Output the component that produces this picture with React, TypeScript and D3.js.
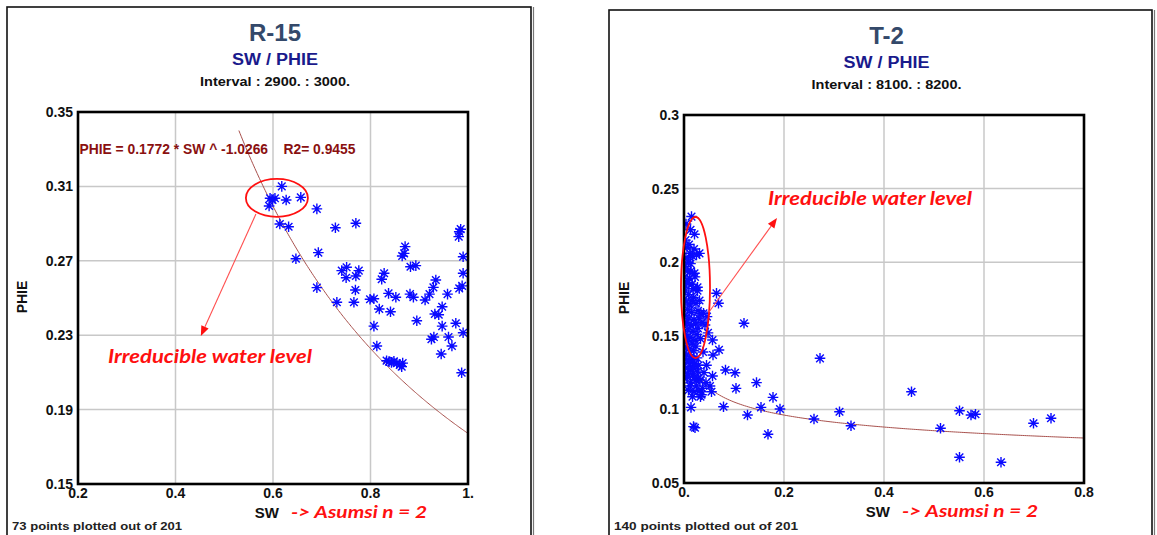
import React from "react";
import * as d3 from "d3";

const W = 1157;
const H = 535;

// R-15 crossplot samples: [SW, PHIE]
const r15Points: [number, number][] = [
  [0.618, 0.31], [0.594, 0.3036], [0.604, 0.3036], [0.599, 0.3027], [0.592, 0.2995], [0.627, 0.3027], [0.657, 0.3041],
  [0.69, 0.2979], [0.614, 0.2898], [0.632, 0.2883], [0.728, 0.2878], [0.77, 0.2902],
  [0.647, 0.2711], [0.693, 0.2744], [0.69, 0.2556], [0.731, 0.2477],
  [0.741, 0.2647], [0.751, 0.2665], [0.75, 0.2609], [0.77, 0.2618], [0.776, 0.2647], [0.769, 0.2543], [0.766, 0.2477],
  [0.799, 0.2493], [0.807, 0.2496], [0.818, 0.2441], [0.807, 0.2349], [0.813, 0.2242],
  [0.841, 0.2426], [0.837, 0.2525], [0.852, 0.2504], [0.823, 0.2601], [0.828, 0.2633],
  [0.865, 0.2726], [0.871, 0.2776], [0.869, 0.274], [0.882, 0.2668], [0.893, 0.2674],
  [0.881, 0.2521], [0.888, 0.2504], [0.895, 0.2378],
  [0.912, 0.2489], [0.921, 0.2521], [0.929, 0.2557], [0.934, 0.2597], [0.958, 0.2521], [0.947, 0.2453], [0.932, 0.2414],
  [0.947, 0.2349], [0.925, 0.2278], [0.93, 0.229], [0.945, 0.2199], [0.967, 0.2242], [0.975, 0.2364],
  [0.982, 0.2552], [0.988, 0.2565], [0.99, 0.2633], [0.99, 0.2722], [0.982, 0.2856], [0.981, 0.283], [0.985, 0.287],
  [0.99, 0.2313], [0.987, 0.2098],
  [0.833, 0.2163], [0.838, 0.2158], [0.843, 0.2154], [0.848, 0.216], [0.854, 0.2149], [0.86, 0.214], [0.864, 0.2131], [0.866, 0.215],
  [0.96, 0.229], [0.94, 0.241],
];

// T-2 crossplot samples: [SW, PHIE]
const t2Points: [number, number][] = [
  [0.015, 0.231], [0.021, 0.219], [0.031, 0.206], [0.012, 0.206], [0.021, 0.1925], [0.027, 0.1806],
  [0.065, 0.1789], [0.069, 0.1721], [0.12, 0.1585], [0.039, 0.1653], [0.042, 0.1573], [0.057, 0.1471],
  [0.07, 0.1404], [0.058, 0.137], [0.272, 0.1347], [0.083, 0.1268], [0.102, 0.1249], [0.145, 0.1182],
  [0.104, 0.1143], [0.178, 0.1082], [0.455, 0.112], [0.154, 0.1014], [0.192, 0.1003], [0.079, 0.1018],
  [0.127, 0.0962], [0.26, 0.0935], [0.311, 0.0984], [0.334, 0.0889], [0.168, 0.0831], [0.513, 0.0872],
  [0.551, 0.0991], [0.574, 0.0962], [0.583, 0.0967], [0.551, 0.0675], [0.634, 0.0641], [0.699, 0.0906],
  [0.734, 0.094], [0.014, 0.1014], [0.019, 0.0883], [0.022, 0.0875], [0.017, 0.1086], [0.033, 0.1086],
  [0.037, 0.1143], [0.044, 0.1182], [0.057, 0.1227], [0.052, 0.1159], [0.055, 0.112], [0.024, 0.12],
  [0.007, 0.1245], [0.016, 0.129], [0.018, 0.1336], [0.029, 0.121],
  [0.003, 0.215], [0.006, 0.21], [0.004, 0.203], [0.009, 0.2], [0.002, 0.197], [0.007, 0.194], [0.013, 0.199],
  [0.017, 0.204], [0.025, 0.205], [0.011, 0.189], [0.005, 0.186], [0.016, 0.185], [0.003, 0.181], [0.009, 0.178],
  [0.019, 0.176], [0.004, 0.173], [0.012, 0.171], [0.024, 0.172], [0.007, 0.168], [0.015, 0.166], [0.028, 0.167],
  [0.034, 0.165], [0.002, 0.164], [0.01, 0.162], [0.02, 0.161], [0.03, 0.162], [0.005, 0.159], [0.014, 0.157],
  [0.023, 0.158], [0.036, 0.159], [0.008, 0.154], [0.018, 0.153], [0.003, 0.151], [0.012, 0.149], [0.026, 0.151],
  [0.006, 0.146], [0.016, 0.145], [0.022, 0.147], [0.002, 0.142], [0.01, 0.141], [0.019, 0.14], [0.005, 0.137],
  [0.014, 0.136], [0.008, 0.132], [0.021, 0.131], [0.003, 0.128], [0.012, 0.127], [0.017, 0.124], [0.027, 0.126],
  [0.006, 0.122], [0.032, 0.12], [0.013, 0.118], [0.025, 0.116], [0.009, 0.113], [0.02, 0.112], [0.035, 0.11],
  [0.03, 0.1125],
  [0.01, 0.212], [0.02, 0.209], [0.014, 0.194], [0.022, 0.19], [0.001, 0.19], [0.018, 0.182], [0.027, 0.183],
  [0.001, 0.175], [0.031, 0.174], [0.016, 0.174], [0.008, 0.186], [0.001, 0.158], [0.028, 0.155], [0.001, 0.148],
  [0.033, 0.148], [0.024, 0.143], [0.001, 0.134], [0.026, 0.135], [0.011, 0.133], [0.019, 0.128], [0.001, 0.121],
  [0.021, 0.122], [0.04, 0.125], [0.012, 0.116], [0.045, 0.13], [0.048, 0.152], [0.046, 0.163], [0.038, 0.139],
  [0.029, 0.13], [0.004, 0.226], [0.013, 0.222],
];

const r15XTicks = [0.2, 0.4, 0.6, 0.8, 1.0];
const r15XLabels = ["0.2", "0.4", "0.6", "0.8", "1."];
const r15YTicks = [0.15, 0.19, 0.23, 0.27, 0.31, 0.35];
const r15YLabels = ["0.15", "0.19", "0.23", "0.27", "0.31", "0.35"];

const t2XTicks = [0, 0.2, 0.4, 0.6, 0.8];
const t2XLabels = ["0.", "0.2", "0.4", "0.6", "0.8"];
const t2YTicks = [0.05, 0.1, 0.15, 0.2, 0.25, 0.3];
const t2YLabels = ["0.05", "0.1", "0.15", "0.2", "0.25", "0.3"];

// Power-law fits PHIE = a * SW ^ b
const r15Fit = { a: 0.1772, b: -1.0266, r2: 0.9455, from: 0.53, to: 1.0 };
const t2Fit = { a: 0.0783, b: -0.1276, from: 0.033, to: 0.8 };

const SANS = "'Liberation Sans', Arial, sans-serif";
const CALI = "Lato, 'Open Sans', sans-serif";
const RED = "#ff1010";

type Note = {
  ellipse: { sw: number; phie: number; rsw: number; rphie: number };
  arrow: { from: [number, number]; to: [number, number] };
  label: [number, number];
};

type PanelProps = {
  id: string;
  frame: { x: number; y: number; w: number; h: number };
  plot: { left: number; right: number; top: number; bottom: number };
  title: string;
  interval: string;
  points: [number, number][];
  xDomain: [number, number];
  yDomain: [number, number];
  xTicks: number[];
  xLabels: string[];
  yTicks: number[];
  yLabels: string[];
  fit: { a: number; b: number; from: number; to: number };
  equation?: { text: string; at: [number, number] };
  note: Note;
  footer: string;
  footerWidth: number;
};

function asterisk(r: number) {
  const d = r * 0.72;
  return `M${-r},0H${r}M0,${-r}V${r}M${-d},${-d}L${d},${d}M${-d},${d}L${d},${-d}`;
}

function Panel(p: PanelProps) {
  const x = d3.scaleLinear().domain(p.xDomain).range([p.plot.left, p.plot.right]);
  const y = d3.scaleLinear().domain(p.yDomain).range([p.plot.bottom, p.plot.top]);
  const cx = (p.frame.x + p.frame.x + p.frame.w) / 2 + 6;

  const fitPts = d3.range(0, 201).map((i) => {
    const sw = p.fit.from + ((p.fit.to - p.fit.from) * i) / 200;
    return [sw, p.fit.a * Math.pow(sw, p.fit.b)] as [number, number];
  });
  const line = d3
    .line<[number, number]>()
    .x((d) => x(d[0]))
    .y((d) => y(d[1]));

  const n = p.note;
  const ax1 = x(n.arrow.from[0]);
  const ay1 = y(n.arrow.from[1]);
  const ax2 = x(n.arrow.to[0]);
  const ay2 = y(n.arrow.to[1]);
  const ang = Math.atan2(ay2 - ay1, ax2 - ax1);
  const hl = 10;
  const hw = 4;
  const bx = ax2 - hl * Math.cos(ang);
  const by = ay2 - hl * Math.sin(ang);
  const head = `M${ax2},${ay2}L${bx + hw * Math.sin(ang)},${by - hw * Math.cos(ang)}L${bx - hw * Math.sin(ang)},${by + hw * Math.cos(ang)}Z`;

  const pw = p.plot.right - p.plot.left;
  const ph = p.plot.bottom - p.plot.top;
  const plotMidX = (p.plot.left + p.plot.right) / 2;
  const yMid = (p.plot.top + p.plot.bottom) / 2;

  return (
    <g>
      <defs>
        <clipPath id={`clip-${p.id}`}>
          <rect x={p.plot.left} y={p.plot.top} width={pw} height={ph} />
        </clipPath>
      </defs>
      {/* outer frame */}
      <rect x={p.frame.x} y={p.frame.y} width={p.frame.w} height={p.frame.h} fill="#fff" stroke="#111" strokeWidth={1.6} />
      <line x1={p.frame.x + p.frame.w + 2.5} x2={p.frame.x + p.frame.w + 2.5} y1={p.frame.y} y2={H} stroke="#777" strokeWidth={1.2} />

      {/* titles */}
      <text x={cx} y={p.frame.y + 34} textAnchor="middle" fontFamily={SANS} fontWeight="bold" fontSize={24} fill="#34496a">
        {p.title}
      </text>
      <text x={cx} y={p.frame.y + 58} textAnchor="middle" fontFamily={SANS} fontWeight="bold" fontSize={16} fill="#1a1a8c" textLength={86} lengthAdjust="spacingAndGlyphs">
        SW / PHIE
      </text>
      <text x={cx} y={p.frame.y + 79} textAnchor="middle" fontFamily={SANS} fontWeight="bold" fontSize={13.5} fill="#111" textLength={150} lengthAdjust="spacingAndGlyphs">
        {p.interval}
      </text>

      {/* grid */}
      {p.xTicks.slice(1, -1).map((t) => (
        <line key={`gx${t}`} x1={x(t)} x2={x(t)} y1={p.plot.top} y2={p.plot.bottom} stroke="#c8c8c8" strokeWidth={1.5} />
      ))}
      {p.yTicks.slice(1, -1).map((t) => (
        <line key={`gy${t}`} x1={p.plot.left} x2={p.plot.right} y1={y(t)} y2={y(t)} stroke="#c8c8c8" strokeWidth={1.5} />
      ))}

      {/* fit curve */}
      <path d={line(fitPts) || ""} fill="none" stroke="#a8504c" strokeWidth={1} clipPath={`url(#clip-${p.id})`} />

      {/* samples */}
      <g clipPath={`url(#clip-${p.id})`}>
        {p.points.map((d, i) => (
          <path
            key={i}
            transform={`translate(${x(d[0])},${y(d[1])})`}
            d={asterisk(5.3)}
            stroke="#0a0aff"
            strokeWidth={1.4}
            fill="none"
          />
        ))}
      </g>

      {/* plot frame */}
      <rect x={p.plot.left} y={p.plot.top} width={pw} height={ph} fill="none" stroke="#000" strokeWidth={2.6} />

      {/* tick labels */}
      {p.xTicks.map((t, i) => (
        <text key={`tx${t}`} x={x(t)} y={p.plot.bottom + 14} textAnchor="middle" fontFamily={SANS} fontWeight="bold" fontSize={14} fill="#111">
          {p.xLabels[i]}
        </text>
      ))}
      {p.yTicks.map((t, i) => (
        <text key={`ty${t}`} x={p.plot.left - 5} y={y(t) + 5} textAnchor="end" fontFamily={SANS} fontWeight="bold" fontSize={14} fill="#111">
          {p.yLabels[i]}
        </text>
      ))}

      {/* axis titles */}
      <text
        transform={`translate(${p.frame.x + 20},${yMid - 1}) rotate(-90)`}
        textAnchor="middle"
        fontFamily={SANS}
        fontWeight="bold"
        fontSize={14}
        fill="#111"
      >
        PHIE
      </text>
      <text x={plotMidX + 6} y={p.plot.bottom + 34} textAnchor="end" fontFamily={SANS} fontWeight="bold" fontSize={15} fill="#111">
        SW
      </text>
      <text x={plotMidX + 18} y={p.plot.bottom + 34} fontFamily={CALI} fontStyle="italic" fontWeight="bold" fontSize={17} fill={RED} textLength={136} lengthAdjust="spacingAndGlyphs">
        {"-> Asumsi n = 2"}
      </text>

      {/* fit equation */}
      {p.equation && (
        <text x={x(p.equation.at[0])} y={y(p.equation.at[1])} fontFamily={SANS} fontWeight="bold" fontSize={14} fill="#8a1010" textLength={276} lengthAdjust="spacingAndGlyphs" style={{ whiteSpace: "pre" }}>
          {p.equation.text}
        </text>
      )}

      {/* irreducible water annotation */}
      <ellipse
        cx={x(n.ellipse.sw)}
        cy={y(n.ellipse.phie)}
        rx={x(n.ellipse.sw + n.ellipse.rsw) - x(n.ellipse.sw)}
        ry={y(n.ellipse.phie) - y(n.ellipse.phie + n.ellipse.rphie)}
        fill="none"
        stroke={RED}
        strokeWidth={1.8}
      />
      <line x1={ax1} y1={ay1} x2={bx} y2={by} stroke="#ff5050" strokeWidth={1.1} />
      <path d={head} fill={RED} />
      <text x={x(n.label[0])} y={y(n.label[1])} fontFamily={CALI} fontStyle="italic" fontWeight="bold" fontSize={19} fill={RED} textLength={204} lengthAdjust="spacingAndGlyphs">
        Irreducible water level
      </text>

      {/* footer */}
      <text x={p.frame.x + 5} y={530} fontFamily={SANS} fontWeight="bold" fontSize={11.5} fill="#222" textLength={p.footerWidth} lengthAdjust="spacingAndGlyphs">
        {p.footer}
      </text>
    </g>
  );
}

export default function App() {
  return (
    <svg width={W} height={H} viewBox={`0 0 ${W} ${H}`} style={{ position: "absolute", left: 0, top: 0, display: "block", background: "#fff" }}>
      <rect x={0} y={0} width={W} height={H} fill="#fff" />
      <Panel
        id="r15"
        frame={{ x: 7, y: 7, w: 524, h: 560 }}
        plot={{ left: 78, right: 468, top: 112, bottom: 484 }}
        title="R-15"
        interval="Interval : 2900. : 3000."
        points={r15Points}
        xDomain={[0.2, 1.0]}
        yDomain={[0.15, 0.35]}
        xTicks={r15XTicks}
        xLabels={r15XLabels}
        yTicks={r15YTicks}
        yLabels={r15YLabels}
        fit={r15Fit}
        equation={{
          text: `PHIE = ${r15Fit.a} * SW ^ ${r15Fit.b}    R2= ${r15Fit.r2}`,
          at: [0.203, 0.3272],
        }}
        note={{
          ellipse: { sw: 0.608, phie: 0.3038, rsw: 0.0636, rphie: 0.0102 },
          arrow: { from: [0.565, 0.2952], to: [0.452, 0.2296] },
          label: [0.2615, 0.2148],
        }}
        footer="73 points plotted out of 201"
        footerWidth={170}
      />
      <Panel
        id="t2"
        frame={{ x: 609, y: 10, w: 543, h: 560 }}
        plot={{ left: 684, right: 1084, top: 115, bottom: 483 }}
        title="T-2"
        interval="Interval : 8100. : 8200."
        points={t2Points}
        xDomain={[0, 0.8]}
        yDomain={[0.05, 0.3]}
        xTicks={t2XTicks}
        xLabels={t2XLabels}
        yTicks={t2YTicks}
        yLabels={t2YLabels}
        fit={t2Fit}
        note={{
          ellipse: { sw: 0.023, phie: 0.1828, rsw: 0.029, rphie: 0.0479 },
          arrow: { from: [0.05, 0.1662], to: [0.186, 0.23] },
          label: [0.168, 0.2389],
        }}
        footer="140 points plotted out of 201"
        footerWidth={184}
      />
    </svg>
  );
}
